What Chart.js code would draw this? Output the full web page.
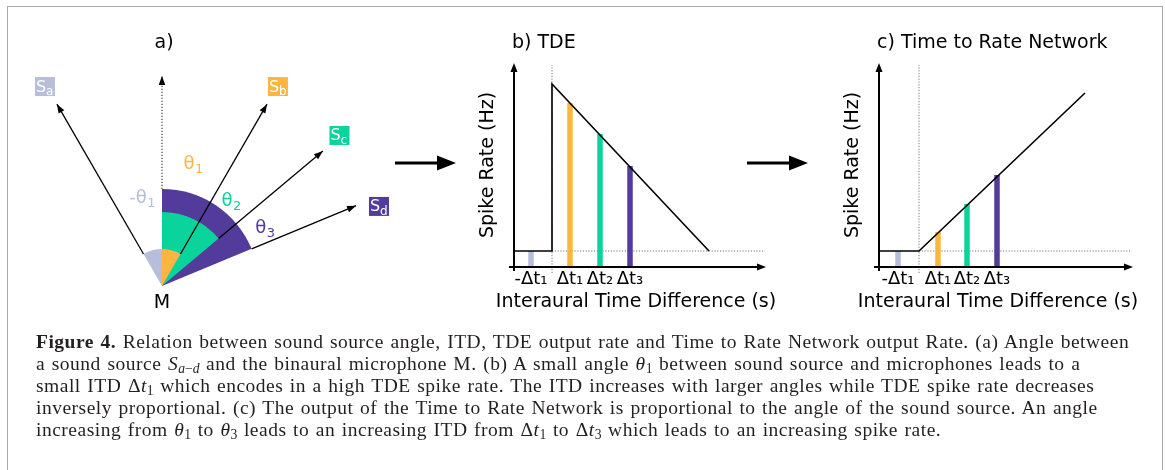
<!DOCTYPE html>
<html>
<head>
<meta charset="utf-8">
<script src="https://cdn.jsdelivr.net/npm/chart.js@4.4.0/dist/chart.umd.min.js"></script>
<style>
    html, body { margin: 0; padding: 0; background: #fff; }
    #fig { position: relative; width: 1165px; height: 470px; overflow: hidden; background: #fff; }
    #frame { position: absolute; left: 7px; top: 6px; width: 1156px; height: 500px; border: 1px solid #a9a9a9; box-sizing: border-box; }
    canvas { position: absolute; }
    #arrows { position: absolute; left: 0; top: 0; }
    #caption { position: absolute; left: 36px; top: 331px; font-family: "Liberation Serif", serif; font-size: 19.5px; letter-spacing: 0.5px; word-spacing: 1.2px; line-height: 22px; color: #231f20; white-space: nowrap; }
    #caption sub { font-size: 70%; vertical-align: -3px; line-height: 0; letter-spacing: 0; }
</style>
</head>
<body>
<div id="fig">
    <div id="frame"></div>
    <canvas id="angles" width="384" height="300" style="left:8px;top:20px"></canvas>
    <canvas id="tde" width="385" height="300" style="left:390px;top:20px"></canvas>
    <canvas id="ttr" width="385" height="300" style="left:775px;top:20px"></canvas>
    <svg id="arrows" width="1165" height="470">
        <line x1="395" y1="163" x2="440" y2="163" stroke="#000" stroke-width="3"/>
        <polygon points="456,163 437,155.5 437,170.5" fill="#000"/>
        <line x1="747" y1="163" x2="792" y2="163" stroke="#000" stroke-width="3"/>
        <polygon points="808,163 789,155.5 789,170.5" fill="#000"/>
    </svg>
    <div id="caption">
        <div><b>Figure 4.</b> Relation between sound source angle, ITD, TDE output rate and Time to Rate Network output Rate. (a) Angle between</div>
        <div>a sound source <i>S</i><sub><i>a</i>−<i>d</i></sub> and the binaural microphone M. (b) A small angle <i>θ</i><sub>1</sub> between sound source and microphones leads to a</div>
        <div>small ITD Δ<i>t</i><sub>1</sub> which encodes in a high TDE spike rate. The ITD increases with larger angles while TDE spike rate decreases</div>
        <div>inversely proportional. (c) The output of the Time to Rate Network is proportional to the angle of the sound source. An angle</div>
        <div>increasing from <i>θ</i><sub>1</sub> to <i>θ</i><sub>3</sub> leads to an increasing ITD from Δ<i>t</i><sub>1</sub> to Δ<i>t</i><sub>3</sub> which leads to an increasing spike rate.</div>
    </div>
</div>
<script>
const FONT = '"DejaVu Sans", Verdana, sans-serif';
const ORANGE = '#fcb640';
const GREEN = '#0ad39b';
const PURPLE = '#523b9a';
const LAVENDER = '#b7bedb';

// a) sources around the microphone, angles in degrees from the vertical
const sourceNames = ['a', 'b', 'c', 'd'];
const sourceAngles = [-30, 30, 50, 67.5];
const sourceColors = [LAVENDER, ORANGE, GREEN, PURPLE];
const wedgeRadii = [0.176, 0.176, 0.352, 0.462];
const vectorLength = 1;
const sourceLabelPos = [[-0.557, 0.950], [0.552, 0.950], [0.845, 0.717], [1.033, 0.379]];
const thetaLabels = ['-θ', 'θ', 'θ', 'θ'];
const thetaSubs = ['1', '1', '2', '3'];
const thetaLabelPos = [[-0.095, 0.410], [0.148, 0.571], [0.329, 0.395], [0.490, 0.267]];

// b) TDE
const tickLabels = ['-Δt₁', 'Δt₁', 'Δt₂', 'Δt₃'];
const barColors = [LAVENDER, ORANGE, GREEN, PURPLE];
const baseRate = 1.6;
const tdeTickPos = [-2.1, 1.8, 4.8, 7.8];
const tdeCurveX = [-3.8, 0, 0, 15.7];
const tdeCurveY = [1.6, 1.6, 18.3, 1.6];
const tdeBarTops = [1.6, 16.4, 13.3, 10.1];

// c) Time to Rate Network
const ttrTickPos = [-2.1, 1.9, 4.8, 7.8];
const ttrCurveX = [-4.0, 0, 16.6];
const ttrCurveY = [1.6, 1.6, 17.4];
const ttrBarTops = [1.6, 3.5, 6.3, 9.2];

const X_TITLE = 'Interaural Time Difference (s)';

Chart.defaults.font.family = FONT;
Chart.defaults.color = '#000';

function arrowHead(ctx, x0, y0, x1, y1, len, half) {
    const a = Math.atan2(y1 - y0, x1 - x0);
    const bx = x1 - len * Math.cos(a), by = y1 - len * Math.sin(a);
    ctx.beginPath();
    ctx.moveTo(x1, y1);
    ctx.lineTo(bx + half * Math.sin(a), by - half * Math.cos(a));
    ctx.lineTo(bx - half * Math.sin(a), by + half * Math.cos(a));
    ctx.closePath();
    ctx.fill();
}

// text with a lowered subscript, centred on (x, y)
function subText(ctx, main, sub, x, y, size, subSize) {
    ctx.font = size + 'px ' + FONT;
    const w1 = ctx.measureText(main).width;
    ctx.font = subSize + 'px ' + FONT;
    const w2 = ctx.measureText(sub).width;
    const x0 = x - (w1 + w2) / 2;
    ctx.textAlign = 'left';
    ctx.textBaseline = 'middle';
    ctx.font = size + 'px ' + FONT;
    ctx.fillText(main, x0, y);
    ctx.font = subSize + 'px ' + FONT;
    ctx.fillText(sub, x0 + w1 + 0.5, y + size * 0.3);
}

const rad = d => d * Math.PI / 180;
const polar = (r, deg) => ({ x: r * Math.sin(rad(deg)), y: r * Math.cos(rad(deg)) });

// ---------- panel a ----------
const angleDatasets = sourceAngles.map((deg, i) => ({
    data: [polar(wedgeRadii[i], deg), polar(vectorLength, deg)],
    showLine: true,
    borderColor: '#000',
    borderWidth: 1.3,
    pointRadius: 0
}));
angleDatasets.push({
    data: [polar(wedgeRadii[3], 0), polar(vectorLength, 0)],
    showLine: true,
    borderColor: '#444',
    borderWidth: 1.2,
    borderDash: [1.2, 1.8],
    pointRadius: 0
});

const anglePlugin = {
    id: 'angleSketch',
    beforeDatasetsDraw(chart) {
        const { ctx, scales: { x, y } } = chart;
        const cx = x.getPixelForValue(0), cy = y.getPixelForValue(0);
        const unit = x.getPixelForValue(1) - cx;
        ctx.save();
        [3, 2, 1, 0].forEach(i => {
            const a0 = Math.min(0, sourceAngles[i]), a1 = Math.max(0, sourceAngles[i]);
            ctx.beginPath();
            ctx.moveTo(cx, cy);
            ctx.arc(cx, cy, wedgeRadii[i] * unit, rad(a0 - 90), rad(a1 - 90));
            ctx.closePath();
            ctx.fillStyle = sourceColors[i];
            ctx.fill();
        });
        ctx.restore();
    },
    afterDatasetsDraw(chart) {
        const { ctx, scales: { x, y } } = chart;
        ctx.save();
        ctx.fillStyle = '#000';
        chart.data.datasets.forEach(ds => {
            const [p0, p1] = ds.data;
            arrowHead(ctx, x.getPixelForValue(p0.x), y.getPixelForValue(p0.y),
                x.getPixelForValue(p1.x), y.getPixelForValue(p1.y), 9, 3.3);
        });
        // source boxes
        sourceNames.forEach((n, i) => {
            const px = x.getPixelForValue(sourceLabelPos[i][0]);
            const py = y.getPixelForValue(sourceLabelPos[i][1]);
            ctx.fillStyle = sourceColors[i];
            ctx.fillRect(px - 10, py - 9.5, 20, 19);
            ctx.fillStyle = '#fff';
            ctx.textBaseline = 'alphabetic';
            ctx.textAlign = 'left';
            ctx.font = '16px ' + FONT;
            ctx.fillText('S', px - 9, py + 5);
            ctx.font = '12px ' + FONT;
            ctx.fillText(n, px + 1, py + 8.5);
        });
        thetaLabels.forEach((t, i) => {
            ctx.fillStyle = sourceColors[i];
            subText(ctx, t, thetaSubs[i], x.getPixelForValue(thetaLabelPos[i][0]),
                y.getPixelForValue(thetaLabelPos[i][1]) - 2, 18, 13);
        });
        ctx.fillStyle = '#000';
        ctx.textAlign = 'center';
        ctx.textBaseline = 'middle';
        ctx.font = '19px ' + FONT;
        ctx.fillText('M', x.getPixelForValue(0), y.getPixelForValue(-0.081));
        ctx.fillText('a)', x.getPixelForValue(0.01), y.getPixelForValue(1.157));
        ctx.restore();
    }
};

new Chart(document.getElementById('angles'), {
    type: 'scatter',
    data: { datasets: angleDatasets },
    options: {
        responsive: false,
        animation: false,
        layout: { padding: 0 },
        scales: {
            x: { display: false, min: -0.733, max: 1.095 },
            y: { display: false, min: -0.162, max: 1.267 }
        },
        plugins: { legend: { display: false }, tooltip: { enabled: false } }
    },
    plugins: [anglePlugin]
});

// ---------- panels b and c ----------
// arrow axes, panel title and the x title (wider than the plot, so drawn unsqueezed here)
const axesPlugin = {
    id: 'arrowAxes',
    afterDatasetsDraw(chart, args, opts) {
        const { ctx, chartArea: { left, right, top, bottom } } = chart;
        ctx.save();
        ctx.strokeStyle = '#000';
        ctx.fillStyle = '#000';
        ctx.lineWidth = 2;
        ctx.beginPath();
        ctx.moveTo(left, bottom + 4);
        ctx.lineTo(left, top + 6);
        ctx.moveTo(left - 5, bottom);
        ctx.lineTo(right - 6, bottom);
        ctx.stroke();
        arrowHead(ctx, left, bottom, left, top, 9, 3.5);
        arrowHead(ctx, left, bottom, right, bottom, 9, 3.5);
        ctx.font = '19px ' + FONT;
        ctx.textBaseline = 'middle';
        ctx.textAlign = 'left';
        ctx.fillText(opts.title, left - 2, 23);
        ctx.textAlign = 'center';
        ctx.fillText(X_TITLE, chart.scales.x.getPixelForValue(opts.xTitleAt), bottom + 35);
        ctx.restore();
    }
};

function createRateChart(canvasId, title, curveX, curveY, tickPos, barTops, xMin, xTitleAt, padLeft, padRight) {
    const xMax = 21.4;
    const datasets = [{
        data: curveX.map((v, i) => ({ x: v, y: curveY[i] })),
        borderColor: '#000',
        borderWidth: 1.6
    }];
    tickPos.forEach((v, i) => {
        datasets.push({
            data: [{ x: v, y: 0 }, { x: v, y: barTops[i] }],
            borderColor: barColors[i],
            borderWidth: 5.5,
            borderCapStyle: 'butt'
        });
    });
    datasets.push({
        data: [{ x: 0, y: baseRate }, { x: xMax - 0.1, y: baseRate }],
        borderColor: '#777',
        borderWidth: 1,
        borderDash: [1.2, 1.6]
    });
    datasets.push({
        data: [{ x: 0, y: -0.6 }, { x: 0, y: 20.2 }],
        borderColor: '#777',
        borderWidth: 1,
        borderDash: [1.2, 1.6],
        clip: false
    });
    datasets.forEach(ds => { ds.showLine = true; ds.pointRadius = 0; });

    return new Chart(document.getElementById(canvasId), {
        type: 'scatter',
        data: { datasets: datasets },
        options: {
            responsive: false,
            animation: false,
            layout: { padding: { left: padLeft, right: padRight, top: 43, bottom: 3 } },
            scales: {
                x: {
                    min: xMin,
                    max: xMax,
                    afterBuildTicks: axis => { axis.ticks = tickPos.map(v => ({ value: v })); },
                    afterFit: s => { s.height = 50; },
                    ticks: {
                        callback: (v, i) => tickLabels[i],
                        font: { size: 18 },
                        padding: 2,
                        autoSkip: false,
                        maxRotation: 0
                    },
                    grid: { display: false, drawTicks: false },
                    border: { display: false }
                },
                y: {
                    min: 0,
                    max: 20.4,
                    afterFit: s => { s.width = 40; },
                    ticks: { display: false },
                    grid: { display: false, drawTicks: false },
                    border: { display: false },
                    title: {
                        display: true,
                        text: 'Spike Rate (Hz)',
                        font: { size: 19 },
                        padding: { top: 3, bottom: 0 }
                    }
                }
            },
            plugins: {
                legend: { display: false },
                tooltip: { enabled: false },
                arrowAxes: { title: title, xTitleAt: xTitleAt }
            }
        },
        plugins: [axesPlugin]
    });
}

createRateChart('tde', 'b) TDE', tdeCurveX, tdeCurveY, tdeTickPos, tdeBarTops, -3.8, 8.4, 84, 9);
createRateChart('ttr', 'c) Time to Rate Network', ttrCurveX, ttrCurveY, ttrTickPos, ttrBarTops, -4.0, 7.9, 64, 27);
</script>
</body>
</html>
